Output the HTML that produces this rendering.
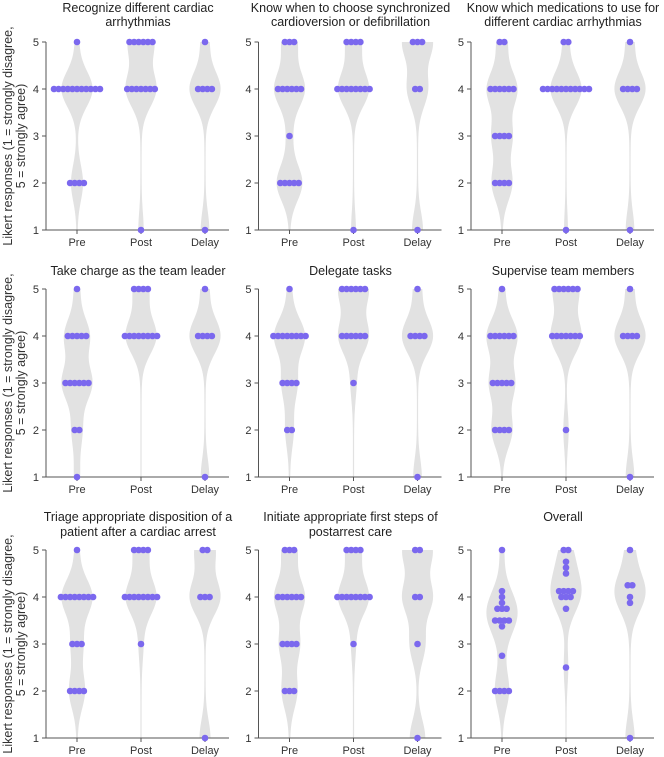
<!DOCTYPE html>
<html><head><meta charset="utf-8"><style>
body{margin:0;background:#fff;}
svg{display:block;font-family:"Liberation Sans","DejaVu Sans",sans-serif;}
</style></head><body>
<svg id="c" width="664" height="757"></svg>
<script>
const groups = ["Pre","Post","Delay"];
const titles = [
 ["Recognize different cardiac","arrhythmias"],
 ["Know when to choose synchronized","cardioversion or defibrillation"],
 ["Know which medications to use for","different cardiac arrhythmias"],
 ["Take charge as the team leader"],
 ["Delegate tasks"],
 ["Supervise team members"],
 ["Triage appropriate disposition of a","patient after a cardiac arrest"],
 ["Initiate appropriate first steps of","postarrest care"],
 ["Overall"]
];
// counts per Likert value [1,2,3,4,5] for Pre, Post, Delay
const p1 = [[0,4,0,11,1],[1,0,0,7,6],[1,0,0,4,1]];
const p2 = [[0,5,1,6,3],[1,0,0,8,4],[1,0,0,2,3]];
const p3 = [[0,4,4,6,2],[1,0,0,11,2],[1,0,0,4,1]];
const p4 = [[1,2,6,5,1],[0,0,0,8,4],[1,0,0,4,1]];
const p5 = [[0,2,4,8,1],[0,0,1,6,6],[1,0,0,4,1]];
const p6 = [[0,4,5,6,1],[0,1,0,7,6],[1,0,0,4,1]];
const p7 = [[0,4,3,8,1],[0,0,1,8,4],[1,0,0,3,2]];
const p8 = [[0,3,4,6,3],[0,0,1,8,4],[1,0,1,2,2]];
const overallPre = [5,4.125,4,3.875,3.75,3.75,3.75,3.5,3.5,3.5,3.5,3.375,2.75,2,2,2,2];
const overallPost = [5,5,4.75,4.625,4.5,4.125,4.125,4.125,4.125,4,4,4,3.75,2.5];
const overallDelay = [5,4.25,4.25,4,3.875,1];
const yTicks = [1,2,3,4,5];

function expand(c){const a=[];c.forEach((n,i)=>{for(let k=0;k<n;k++)a.push(i+1);});return a;}
const panels = [p1,p2,p3,p4,p5,p6,p7,p8].map(p=>p.map(expand));
panels.push([overallPre,overallPost,overallDelay]);

const NS="http://www.w3.org/2000/svg";
const svg=document.getElementById('c');
function mk(t,a,p){const e=document.createElementNS(NS,t);for(const k in a)e.setAttribute(k,a[k]);(p||svg).appendChild(e);return e;}
const colOff=[0,212.5,425];
const rowY5=[42,289,550], rowY1=[230,477,738];
const titleY=[[8,22],[271],[517,532]];

for(let r=0;r<3;r++){
 const ylab=mk('text',{transform:`translate(12,${(rowY5[r]+rowY1[r])/2}) rotate(-90)`,'text-anchor':'middle','font-size':12.5,fill:'#333'});
 
 
 const t1=mk('tspan',{x:0,dy:0},ylab);t1.textContent="Likert responses (1 = strongly disagree,";
 const t2=mk('tspan',{x:0,dy:13},ylab);t2.textContent="5 = strongly agree)";
}

panels.forEach((pd,pi)=>{
 const r=Math.floor(pi/3), c=pi%3, off=colOff[c];
 const g=mk('g',{});
 
 
 const y=v=>rowY1[r]+(v-1)*(rowY5[r]-rowY1[r])/4;
 const x=i=>off+77+i*64;
 const ax=off+46;
 const tl=titles[pi];
 tl.forEach((s,li)=>{const t=mk('text',{x:off+138,y:titleY[r][li]+4,'text-anchor':'middle','font-size':12.5,fill:'#222'},g);
  
  
  t.textContent=s;});
 pd.forEach((vals,gi)=>{
  const bw=0.38, dens=[];
  for(let k=0;k<=80;k++){const v=1+k*0.05;let d=0;vals.forEach(u=>{d+=Math.exp(-0.5*((v-u)/bw)**2);});dens.push([v,d]);}
  const mx=Math.max(...dens.map(d=>d[1]));
  const hw=d=>0.6+d/mx*15;
  let path='M'+dens.map(([v,d])=>`${x(gi)+hw(d)},${y(v)}`).join('L')+'L'+dens.slice().reverse().map(([v,d])=>`${x(gi)-hw(d)},${y(v)}`).join('L')+'Z';
  const p=mk('path',{d:path,fill:'#e2e2e2'},g);
  
  
 });
 mk('line',{x1:ax,y1:rowY5[r],x2:ax,y2:rowY1[r],stroke:'#555','stroke-width':1},g);
 mk('line',{x1:ax-4,y1:rowY1[r],x2:off+229,y2:rowY1[r],stroke:'#555','stroke-width':1},g);
 yTicks.forEach(v=>{
  mk('line',{x1:ax-4,y1:y(v),x2:ax,y2:y(v),stroke:'#555'},g);
  const t=mk('text',{x:ax-7,y:y(v)+4,'text-anchor':'end','font-size':11,fill:'#333'},g);
  
  
  t.textContent=v;
 });
 groups.forEach((gn,gi)=>{
  mk('line',{x1:x(gi),y1:rowY1[r],x2:x(gi),y2:rowY1[r]+4,stroke:'#555'},g);
  const t=mk('text',{x:x(gi),y:rowY1[r]+16,'text-anchor':'middle','font-size':11,fill:'#333'},g);
  
  
  t.textContent=gn;
 });
 pd.forEach((vals,gi)=>{
  const m={};vals.forEach(v=>{m[v]=(m[v]||0)+1;});
  Object.keys(m).forEach(k=>{
   const n=m[k],sp=4.6;
   for(let j=0;j<n;j++){
    const cx=x(gi)+(j-(n-1)/2)*sp;
    const d=mk('circle',{cx:cx,cy:y(+k),r:3.3,fill:'#7b68ee'},g);
    
    
   }
  });
 });
});
</script>
</body></html>
